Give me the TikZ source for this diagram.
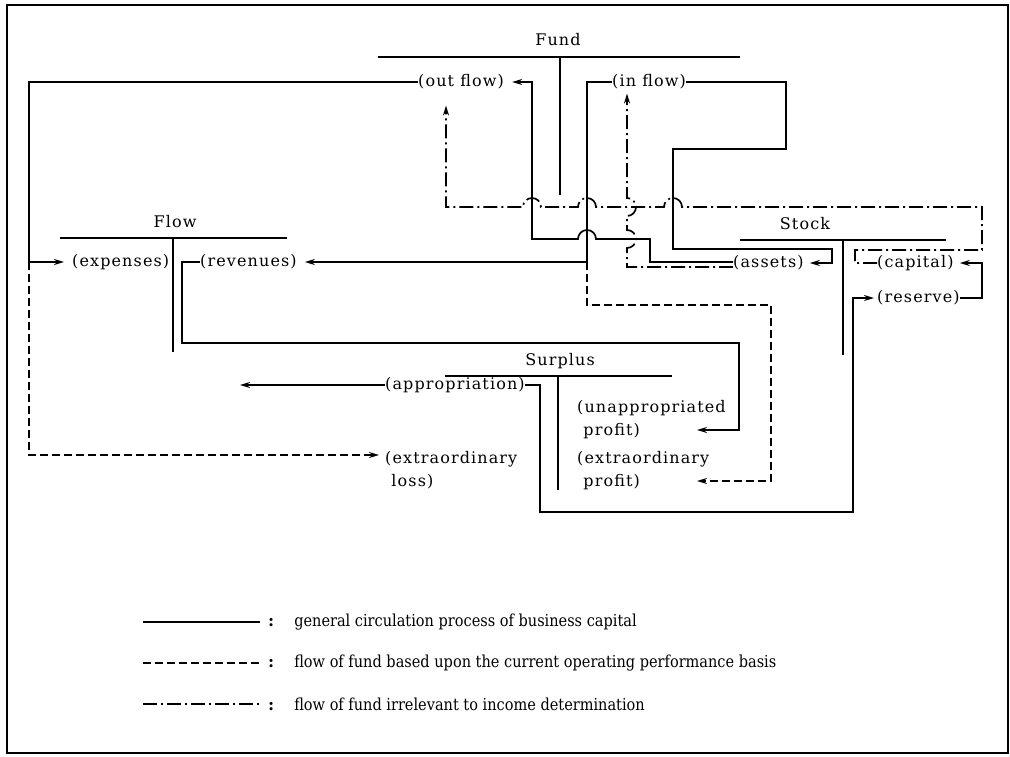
\documentclass[tikz,border=0pt]{standalone}
\usepackage{fontspec}
\setmainfont{DejaVu Serif}
\newfontfamily\lblfont[LetterSpace=7]{DejaVu Serif}
\usetikzlibrary{arrows.meta,calc}
\begin{document}
\begin{tikzpicture}[x=1pt,y=-1pt,
  lbl/.style={inner sep=0pt, font=\lblfont\fontsize{16}{23}\selectfont, anchor=west},
  hdr/.style={inner sep=0pt, font=\lblfont\fontsize{16}{23}\selectfont},
  leg/.style={inner sep=0pt, font=\fontsize{16.5}{23}\selectfont, anchor=west},
  sol/.style={line width=1.7pt},
  dsh/.style={line width=1.7pt, dash pattern=on 8pt off 4pt},
  dd/.style={line width=1.7pt, dash pattern=on 14pt off 4pt on 2pt off 4pt},
  arr/.style={-{Stealth[length=10pt,width=6pt]}},
  tbar/.style={line width=1.7pt}
]
\useasboundingbox (0,0) rectangle (1010,756);
\draw[line width=1.4pt] (7,5) rectangle (1008,753);

% headers with T bars
\node[hdr] (fund) at (558,40) {Fund};
\draw[tbar] (378,57) -- (740,57) (560,57) -- (560,195);
\node[hdr] (flow) at (175,222) {Flow};
\draw[tbar] (60,238) -- (287,238) (173,238) -- (173,352);
\node[hdr] (stock) at (805,224) {Stock};
\draw[tbar] (740,240) -- (946,240) (843,240) -- (843,355);
\node[hdr] (surplus) at (560,361) {Surplus};
\draw[tbar] (445,376) -- (672,376) (558,376) -- (558,490);

% labels
\node[lbl] (outflow) at (418,82) {(out flow)};
\node[lbl] (inflow) at (612,82) {(in flow)};
\node[lbl] (expenses) at (72,262) {(expenses)};
\node[lbl] (revenues) at (200,262) {(revenues)};
\node[lbl] (assets) at (733,263) {(assets)};
\node[lbl] (capital) at (877,263) {(capital)};
\node[lbl] (reserve) at (877,298) {(reserve)};
\node[lbl] (approp) at (385,385) {(appropriation)};
\node[lbl, anchor=north west, align=left] (unapp) at (577,400) {(unappropriated\\\hphantom{(}profit)};
\node[lbl, anchor=north west, align=left] (exloss) at (385,451) {(extraordinary\\\hphantom{(}loss)};
\node[lbl, anchor=north west, align=left] (exprofit) at (577,451) {(extraordinary\\\hphantom{(}profit)};

% A: assets -> out flow
\draw[sol,arr] ([yshift=1pt]assets.west) -| (650,239) -- (596,239)
  arc[start angle=0,end angle=180,radius=9pt] -- (532,239) |- ([xshift=8pt]outflow.east);
% B: out flow -> expenses
\draw[sol] (outflow.west) -| (29,262);
\draw[sol,arr] (29,262) -- ([xshift=-8pt]expenses.west);
% K: dashed to extraordinary loss
\draw[dsh,arr] (29,262) |- ([xshift=-6pt,yshift=-4pt]exloss.north west);
% C: in flow -> revenues
\draw[sol,arr] (inflow.west) -| (587,262) -- ([xshift=8pt]revenues.east);
% C2: dashed to extraordinary profit
\draw[dsh,arr] (587,262) -- (587,305) -- (771,305) |- ($(exprofit.north west)+(120,30)$);
% D: in flow -> assets
\draw[sol,arr] (inflow.east) -- (786,82) -- (786,149) -- (673,149) -- (673,249) -- (832,249) |- ([xshift=6pt]assets.east);
% E: capital -> out flow (dash-dot)
\draw[dd,arr] (capital.west) -- (855,263) -- (855,250) -- (982,250) -- (982,207) -- (682,207)
  arc[start angle=0,end angle=180,radius=9pt] -- (596,207)
  arc[start angle=0,end angle=180,radius=9pt] -- (541,207)
  arc[start angle=0,end angle=180,radius=9pt] -- (446,207) -- ([xshift=28pt,yshift=-16pt]outflow.south west);
% F: assets -> in flow (dash-dot)
\draw[dd,arr] ([yshift=-4pt]assets.west) -| (627,248)
  arc[start angle=-90,end angle=90,radius=9pt] -- (627,216)
  arc[start angle=-90,end angle=90,radius=9pt] -- ([xshift=15pt,yshift=-4pt]inflow.south west);
% G: reserve -> capital
\draw[sol,arr] (reserve.east) -- (982,298) -- (982,263) -- ([xshift=6pt]capital.east);
% H: appropriation -> reserve
\draw[sol,arr] (approp.east) -- (540,385) -- (540,512) -- (853,512) -- (853,298) -- ([xshift=-3pt]reserve.west);
% I: appropriation -> out
\coordinate (apout) at (240,385);
\draw[sol,arr] (approp.west) -- (apout);
% J: revenues -> unappropriated profit
\draw[sol,arr] (revenues.west) -- (182,262) -- (182,343) -- (739,343) |- ($(unapp.north west)+(120,30)$);

% legend
\coordinate (l1a) at (143,622); \coordinate (l1b) at (260,622);
\coordinate (l2a) at (143,663); \coordinate (l2b) at (260,663);
\coordinate (l3a) at (143,704); \coordinate (l3b) at (260,704);
\draw[sol] (l1a) -- (l1b);
\draw[dsh] (l2a) -- (l2b);
\draw[dd] (l3a) -- (l3b);
\node[leg] (t1) at (268,622) {\textbf{:}\hspace{20pt}\scalebox{0.88}[1]{general circulation process of business capital}};
\node[leg] (t2) at (268,663) {\textbf{:}\hspace{20pt}\scalebox{0.88}[1]{flow of fund based upon the current operating performance basis}};
\node[leg] (t3) at (268,704) {\textbf{:}\hspace{20pt}\scalebox{0.88}[1]{flow of fund irrelevant to income determination}};
\end{tikzpicture}
\end{document}
